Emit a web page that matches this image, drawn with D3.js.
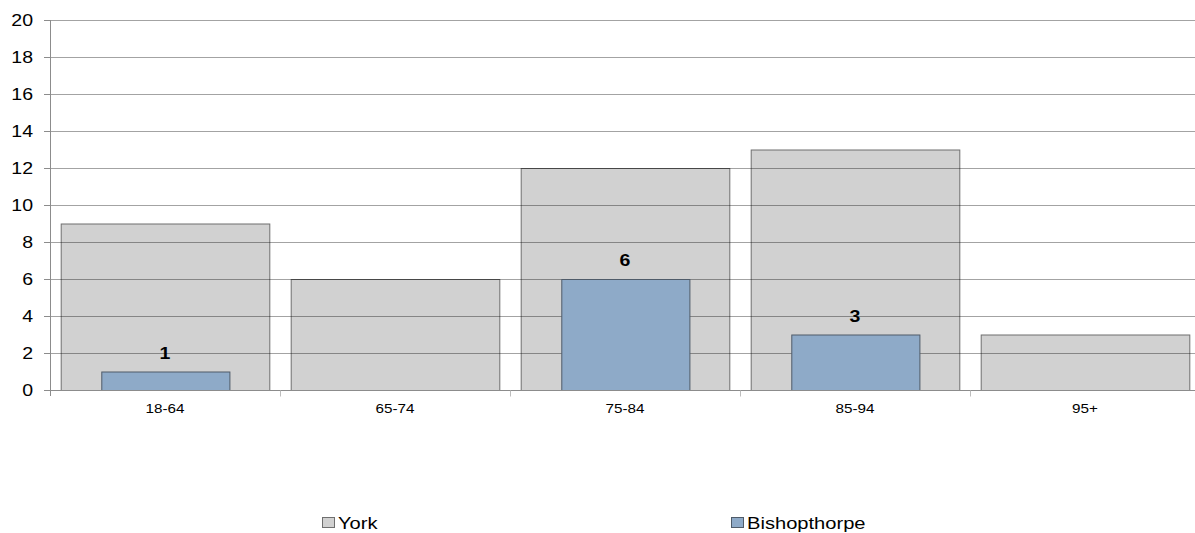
<!DOCTYPE html>
<html>
<head>
<meta charset="utf-8">
<script src="https://cdn.jsdelivr.net/npm/d3@7"></script>
<style>
html,body{margin:0;padding:0;background:#fff;}
svg{display:block;font-family:"Liberation Sans",Arial,sans-serif;}
</style>
</head>
<body>
<svg id="chart" width="1195" height="533"></svg>
<script>
const categories = ["18-64","65-74","75-84","85-94","95+"];
const york = [9,6,12,13,3];
const bishopthorpe = [1,0,6,3,0];
const yTicks = [0,2,4,6,8,10,12,14,16,18,20];
const seriesNames = ["York","Bishopthorpe"];

(function(){
const svg = d3.select("#chart");
const mLeft = 50, mTop = 20, mBottom = 390, mRight = 1200;
const SX = 1.22; // horizontal stretch of the original rendering

function txt(g, x, y, s, size, anchor, weight) {
  return g.append("text")
    .attr("transform", `translate(${x},${y}) scale(${SX},1)`)
    .attr("text-anchor", anchor || "start")
    .attr("font-size", size)
    .attr("font-weight", weight || "normal")
    .attr("fill", "#000")
    .text(s);
}

const x = d3.scaleBand().domain(categories).range([mLeft, mRight]).padding(0);
const y = d3.scaleLinear().domain([0,20]).range([mBottom, mTop]);
const bw = x.bandwidth();

const yorkFill = "#d1d1d1", yorkStroke = "#6f6f6f";
const bishFill = "#8eaac8", bishStroke = "#4f5b69";

// York bars (behind gridlines)
svg.append("g").selectAll("rect").data(categories).join("rect")
  .attr("x", d => x(d) + bw*0.0465 + 0.5)
  .attr("y", (d,i) => y(york[i]) + 0.5)
  .attr("width", bw*0.907)
  .attr("height", (d,i) => y(0) - y(york[i]))
  .attr("fill", yorkFill).attr("stroke", yorkStroke).attr("stroke-width", 1);

// gridlines
svg.append("g").selectAll("line").data(yTicks.filter(t => t > 0)).join("line")
  .attr("x1", mLeft - 6).attr("x2", mRight)
  .attr("y1", d => Math.round(y(d)) + 0.5).attr("y2", d => Math.round(y(d)) + 0.5)
  .attr("stroke", "rgba(0,0,0,0.36)").attr("stroke-width", 1);

// Bishopthorpe bars
const bData = categories.map((c,i) => ({c, v: bishopthorpe[i]})).filter(d => d.v > 0);
svg.append("g").selectAll("rect").data(bData).join("rect")
  .attr("x", d => x(d.c) + bw*0.223 + 0.5)
  .attr("y", d => y(d.v) + 0.5)
  .attr("width", bw*0.557)
  .attr("height", d => y(0) - y(d.v))
  .attr("fill", bishFill).attr("stroke", bishStroke).attr("stroke-width", 1);

// data labels
const gl = svg.append("g");
bData.forEach(d => txt(gl, x(d.c) + bw/2, y(d.v) - 13, d.v, 16, "middle", "bold"));

// y axis
const gy = svg.append("g");
gy.append("line").attr("x1", mLeft + 0.5).attr("x2", mLeft + 0.5).attr("y1", mTop).attr("y2", mBottom + 6)
  .attr("stroke", "#8c8c8c");
gy.selectAll("line.tk").data(yTicks).join("line").attr("class", "tk")
  .attr("x1", mLeft - 6).attr("x2", mLeft)
  .attr("y1", d => Math.round(y(d)) + 0.5).attr("y2", d => Math.round(y(d)) + 0.5)
  .attr("stroke", "#8c8c8c");
yTicks.forEach(t => txt(gy, 33, y(t) + 6, t, 16, "end"));

// x axis
const xb = d3.scaleLinear().domain([0, categories.length]).range([mLeft, mRight]);
const gx = svg.append("g").attr("transform", `translate(0,${mBottom + 0.5})`);
gx.append("line").attr("x1", mLeft - 6).attr("x2", mRight).attr("stroke", "#8c8c8c");
gx.selectAll("line.tk").data(d3.range(1, categories.length + 1)).join("line").attr("class","tk")
  .attr("x1", d => Math.round(xb(d)) + 0.5).attr("x2", d => Math.round(xb(d)) + 0.5)
  .attr("y1", 0).attr("y2", 6).attr("stroke", "#bdbdbd");
const gxl = svg.append("g");
categories.forEach(c => txt(gxl, x(c) + bw/2, 413, c, 12.5, "middle"));

// legend
const legendX = [322, 731];
const lg = svg.append("g");
seriesNames.forEach((name, i) => {
  lg.append("rect").attr("x", legendX[i] + 0.5).attr("y", 517.5).attr("width", 12).attr("height", 10)
    .attr("fill", i === 0 ? yorkFill : bishFill).attr("stroke", i === 0 ? yorkStroke : bishStroke);
  txt(lg, legendX[i] + 16, 529, name, 16.5, "start");
});
})();
</script>
</body>
</html>
